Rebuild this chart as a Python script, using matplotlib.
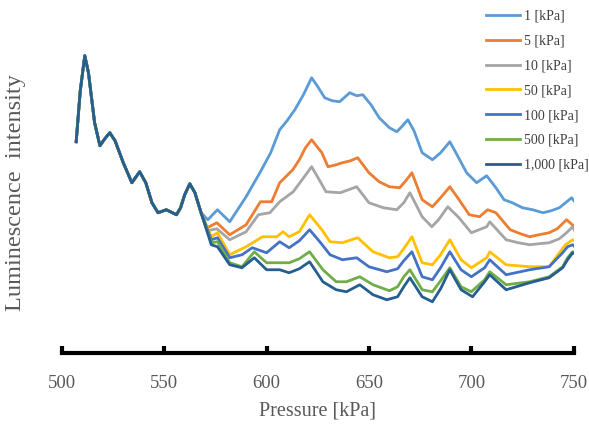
import matplotlib.pyplot as plt

plt.rcParams['font.family'] = ['Liberation Serif', 'DejaVu Serif']

# shared segment (all pressures overlap here)
common_x = [507, 509, 511.2, 513, 516, 518.6, 521, 523.4, 526, 530, 534.2, 538, 541, 544, 547, 551, 556, 558, 560, 562.5, 565, 568]
common_y = [211, 262, 297, 280, 230, 207, 214, 220, 212, 190, 170, 181, 170, 150, 140, 143, 138, 145, 158, 169, 160, 140]

labels = ['1 [kPa]', '5 [kPa]', '10 [kPa]', '50 [kPa]', '100 [kPa]', '500 [kPa]', '1,000 [kPa]']
colors = ['#5B9BD5', '#ED7D31', '#A5A5A5', '#FFC000', '#4472C4', '#70AD47', '#255E91']

x_1 = [571.3, 576, 582, 590, 597, 602, 606.4, 610, 613.8, 618, 622, 625, 628.4, 632, 635.7, 640.6, 644, 647, 651, 655, 660, 663.6, 666, 669, 672, 676, 681, 685, 689.5, 693, 697.7, 702.6, 707.5, 712, 716, 720, 725, 730, 735, 739, 743, 746, 749, 750.5]
y_1 = [133, 143, 131, 156, 181, 200, 223, 232, 243, 258, 275, 266, 255, 252, 251, 260, 257, 258, 248, 235, 225, 221, 226, 233, 222, 200, 193, 200, 211, 198, 180, 170, 177, 165, 153, 150, 145, 143, 140, 142, 145, 150, 155, 151]

x_5 = [571, 575.7, 582, 590, 597, 602.5, 606.4, 612.8, 616, 619, 622, 627, 630, 634, 637, 641, 644.5, 650, 655, 660, 665, 668, 671, 676, 681, 685, 689.5, 693, 699, 704, 708, 712, 719, 724, 728.5, 733, 738, 742, 746.5, 750.5]
y_5 = [125, 130, 118, 128, 151, 151, 170, 183, 193, 205, 213, 200, 186, 188, 190, 192, 195, 180, 171, 166, 165, 172, 180, 153, 146, 155, 166, 156, 138, 136, 143, 140, 123, 119, 116, 118, 120, 124, 133, 126]

x_10 = [571, 575.7, 582, 590, 596, 601.6, 606.4, 613, 617, 622, 626, 629, 636, 640, 644, 650, 657, 663.6, 667, 670, 676, 680.7, 684, 688.5, 694, 700, 707.5, 709, 717, 723, 728.5, 733, 738, 743, 746.5, 749.5, 750.5]
y_10 = [122, 124, 113, 121, 138, 140, 151, 161, 172, 186, 172, 161, 160, 163, 166, 150, 145, 143, 150, 160, 136, 126, 133, 146, 135, 120, 126, 131, 113, 110, 108, 109, 110, 114, 120, 126, 122]

x_50 = [573, 576, 582, 590, 598, 605, 608, 611, 616, 621, 627, 631, 637, 644.5, 652, 660, 664, 667, 671, 676, 681, 685, 689.5, 695, 700, 707.5, 709, 717, 728.5, 738, 743, 746, 749.5, 750.5]
y_50 = [116, 120, 98, 106, 116, 116, 121, 116, 121, 138, 123, 111, 110, 115, 101, 95, 96, 104, 116, 90, 88, 98, 113, 93, 85, 95, 101, 88, 86, 86, 100, 108, 113, 112]

x_100 = [573, 576, 582, 588, 593, 600, 606.4, 611, 616, 621, 626, 631, 637, 644, 650, 658.7, 664, 667, 671, 676, 681, 685, 689.5, 695, 700, 706.5, 709, 717, 728.5, 738, 744.6, 747, 749.5, 750.5]
y_100 = [113, 115, 95, 98, 105, 100, 111, 105, 112, 123, 111, 98, 93, 95, 86, 81, 84, 92, 101, 76, 73, 85, 101, 83, 76, 85, 93, 78, 83, 86, 100, 106, 108, 106]

x_500 = [573, 576, 582, 588, 594, 600, 606.4, 611, 616, 621, 627.5, 634, 639, 645.5, 652, 660, 664, 667, 670, 676, 681, 685, 689.5, 695, 700, 706.5, 709, 717, 728.5, 738, 744.6, 747, 749.5, 750.5]
y_500 = [110, 111, 90, 86, 101, 90, 90, 90, 94, 101, 83, 71, 71, 76, 68, 62, 66, 76, 83, 63, 61, 72, 85, 66, 61, 73, 81, 68, 71, 76, 86, 95, 101, 100]

x_1000 = [573, 576, 582, 588, 594, 600, 606.4, 611, 616, 621, 627.5, 634, 639, 645.5, 652, 658.7, 664, 667, 670, 676, 681, 685, 689.5, 695, 700.6, 706.5, 709, 717, 728.5, 738, 744.6, 747, 749.5, 750.5]
y_1000 = [108, 106, 88, 85, 95, 83, 83, 80, 84, 91, 71, 63, 61, 68, 58, 53, 56, 66, 75, 56, 51, 64, 83, 63, 56, 71, 78, 63, 70, 75, 85, 93, 100, 99]

series_x = [x_1, x_5, x_10, x_50, x_100, x_500, x_1000]
series_y = [y_1, y_5, y_10, y_50, y_100, y_500, y_1000]

fig = plt.figure(figsize=(5.89, 4.24), dpi=100)
ax = fig.add_axes([0.105, 0.168, 0.869, 0.802])

for xs, ys, c, lab in zip(series_x, series_y, colors, labels):
    ax.plot(common_x + xs, common_y + ys, color=c, lw=2, label=lab)

ax.set_xlim(500, 750)
ax.set_ylim(0, 340)
ax.set_xticks([500, 550, 600, 650, 700, 750])
ax.set_yticks([])
for s in ['top', 'right', 'left']:
    ax.spines[s].set_visible(False)
ax.spines['bottom'].set_linewidth(3)
ax.tick_params(axis='x', direction='in', length=5, width=3, pad=16,
               labelsize=13.5, labelcolor='#595959')
ax.set_xlabel('Pressure [kPa]', fontsize=14.5, color='#595959', labelpad=7)
ax.set_ylabel('Luminescence  intensity', fontsize=17.5, color='#595959')
ax.yaxis.set_label_coords(-0.07, 0.47)

leg = ax.legend(loc='upper left', bbox_to_anchor=(0.815, 0.99), bbox_transform=fig.transFigure,
                frameon=False, fontsize=10, handlelength=2.5, handletextpad=0.3,
                labelspacing=0.85, borderaxespad=0)
for t in leg.get_texts():
    t.set_color('#404040')

fig.savefig('out.png', dpi=100)
